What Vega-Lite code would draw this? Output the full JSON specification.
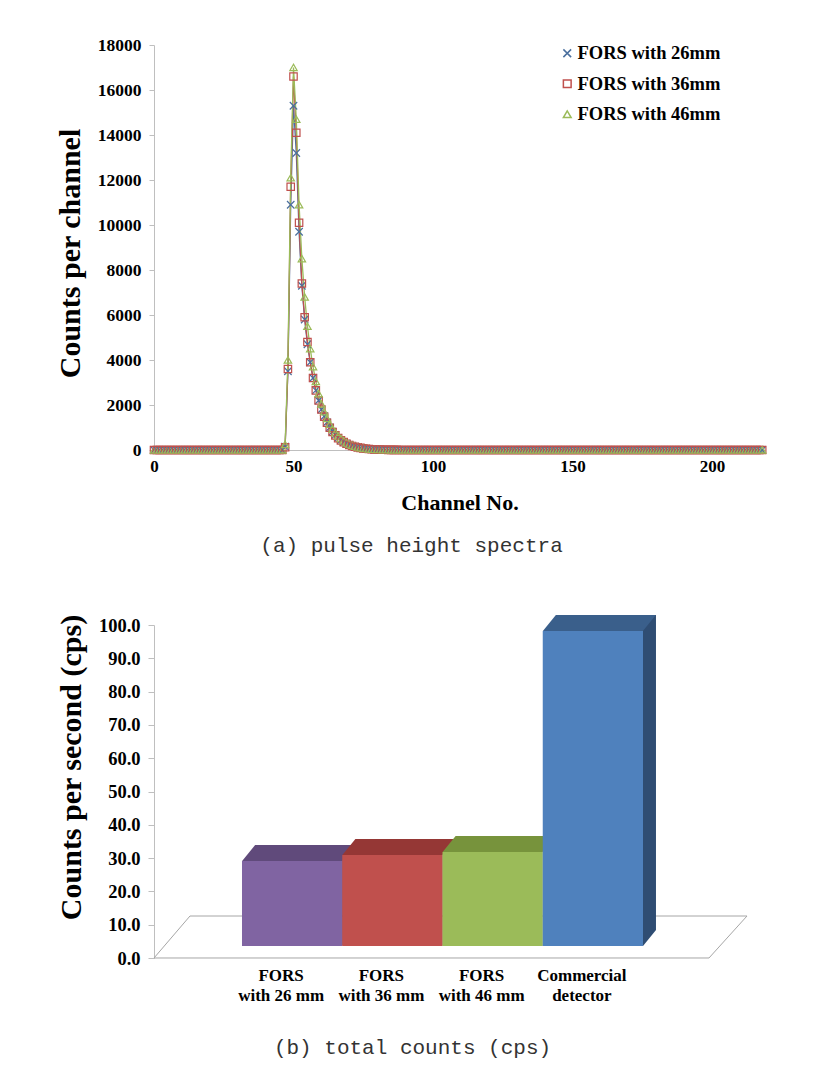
{
"$schema": "https://vega.github.io/schema/vega-lite/v6.json",
"background": "white",
"padding": {"left": 55, "top": 36, "right": 5, "bottom": 5},
"bounds": "flush",
"spacing": 175,
"config": {
  "view": {"stroke": null},
  "axis": {"labelFont": "Liberation Serif", "labelFontWeight": "bold", "labelColor": "#000", "titleFont": "Liberation Serif", "titleFontWeight": "bold", "titleColor": "#000", "domainColor": "#bfbfbf", "tickColor": "#bfbfbf", "grid": false},
  "title": {"font": "Liberation Mono", "fontSize": 21, "fontWeight": "normal", "color": "#333", "orient": "bottom", "anchor": "middle"}
},
"vconcat": [
{
  "width": 611, "height": 405,
  "title": {"text": "(a) pulse height spectra", "offset": 22, "dx": -48},
  "data": {"values": [
{"ch":0,"FORS with 26mm":0,"FORS with 36mm":0,"FORS with 46mm":0},
{"ch":1,"FORS with 26mm":0,"FORS with 36mm":0,"FORS with 46mm":0},
{"ch":2,"FORS with 26mm":0,"FORS with 36mm":0,"FORS with 46mm":0},
{"ch":3,"FORS with 26mm":0,"FORS with 36mm":0,"FORS with 46mm":0},
{"ch":4,"FORS with 26mm":0,"FORS with 36mm":0,"FORS with 46mm":0},
{"ch":5,"FORS with 26mm":0,"FORS with 36mm":0,"FORS with 46mm":0},
{"ch":6,"FORS with 26mm":0,"FORS with 36mm":0,"FORS with 46mm":0},
{"ch":7,"FORS with 26mm":0,"FORS with 36mm":0,"FORS with 46mm":0},
{"ch":8,"FORS with 26mm":0,"FORS with 36mm":0,"FORS with 46mm":0},
{"ch":9,"FORS with 26mm":0,"FORS with 36mm":0,"FORS with 46mm":0},
{"ch":10,"FORS with 26mm":0,"FORS with 36mm":0,"FORS with 46mm":0},
{"ch":11,"FORS with 26mm":0,"FORS with 36mm":0,"FORS with 46mm":0},
{"ch":12,"FORS with 26mm":0,"FORS with 36mm":0,"FORS with 46mm":0},
{"ch":13,"FORS with 26mm":0,"FORS with 36mm":0,"FORS with 46mm":0},
{"ch":14,"FORS with 26mm":0,"FORS with 36mm":0,"FORS with 46mm":0},
{"ch":15,"FORS with 26mm":0,"FORS with 36mm":0,"FORS with 46mm":0},
{"ch":16,"FORS with 26mm":0,"FORS with 36mm":0,"FORS with 46mm":0},
{"ch":17,"FORS with 26mm":0,"FORS with 36mm":0,"FORS with 46mm":0},
{"ch":18,"FORS with 26mm":0,"FORS with 36mm":0,"FORS with 46mm":0},
{"ch":19,"FORS with 26mm":0,"FORS with 36mm":0,"FORS with 46mm":0},
{"ch":20,"FORS with 26mm":0,"FORS with 36mm":0,"FORS with 46mm":0},
{"ch":21,"FORS with 26mm":0,"FORS with 36mm":0,"FORS with 46mm":0},
{"ch":22,"FORS with 26mm":0,"FORS with 36mm":0,"FORS with 46mm":0},
{"ch":23,"FORS with 26mm":0,"FORS with 36mm":0,"FORS with 46mm":0},
{"ch":24,"FORS with 26mm":0,"FORS with 36mm":0,"FORS with 46mm":0},
{"ch":25,"FORS with 26mm":0,"FORS with 36mm":0,"FORS with 46mm":0},
{"ch":26,"FORS with 26mm":0,"FORS with 36mm":0,"FORS with 46mm":0},
{"ch":27,"FORS with 26mm":0,"FORS with 36mm":0,"FORS with 46mm":0},
{"ch":28,"FORS with 26mm":0,"FORS with 36mm":0,"FORS with 46mm":0},
{"ch":29,"FORS with 26mm":0,"FORS with 36mm":0,"FORS with 46mm":0},
{"ch":30,"FORS with 26mm":0,"FORS with 36mm":0,"FORS with 46mm":0},
{"ch":31,"FORS with 26mm":0,"FORS with 36mm":0,"FORS with 46mm":0},
{"ch":32,"FORS with 26mm":0,"FORS with 36mm":0,"FORS with 46mm":0},
{"ch":33,"FORS with 26mm":0,"FORS with 36mm":0,"FORS with 46mm":0},
{"ch":34,"FORS with 26mm":0,"FORS with 36mm":0,"FORS with 46mm":0},
{"ch":35,"FORS with 26mm":0,"FORS with 36mm":0,"FORS with 46mm":0},
{"ch":36,"FORS with 26mm":0,"FORS with 36mm":0,"FORS with 46mm":0},
{"ch":37,"FORS with 26mm":0,"FORS with 36mm":0,"FORS with 46mm":0},
{"ch":38,"FORS with 26mm":0,"FORS with 36mm":0,"FORS with 46mm":0},
{"ch":39,"FORS with 26mm":0,"FORS with 36mm":0,"FORS with 46mm":0},
{"ch":40,"FORS with 26mm":0,"FORS with 36mm":0,"FORS with 46mm":0},
{"ch":41,"FORS with 26mm":0,"FORS with 36mm":0,"FORS with 46mm":0},
{"ch":42,"FORS with 26mm":0,"FORS with 36mm":0,"FORS with 46mm":0},
{"ch":43,"FORS with 26mm":0,"FORS with 36mm":0,"FORS with 46mm":0},
{"ch":44,"FORS with 26mm":0,"FORS with 36mm":0,"FORS with 46mm":0},
{"ch":45,"FORS with 26mm":0,"FORS with 36mm":0,"FORS with 46mm":0},
{"ch":46,"FORS with 26mm":0,"FORS with 36mm":0,"FORS with 46mm":0},
{"ch":47,"FORS with 26mm":150,"FORS with 36mm":120,"FORS with 46mm":250},
{"ch":48,"FORS with 26mm":3500,"FORS with 36mm":3600,"FORS with 46mm":4000},
{"ch":49,"FORS with 26mm":10900,"FORS with 36mm":11700,"FORS with 46mm":12100},
{"ch":50,"FORS with 26mm":15300,"FORS with 36mm":16600,"FORS with 46mm":17000},
{"ch":51,"FORS with 26mm":13200,"FORS with 36mm":14100,"FORS with 46mm":14700},
{"ch":52,"FORS with 26mm":9700,"FORS with 36mm":10100,"FORS with 46mm":10900},
{"ch":53,"FORS with 26mm":7300,"FORS with 36mm":7400,"FORS with 46mm":8500},
{"ch":54,"FORS with 26mm":5800,"FORS with 36mm":5900,"FORS with 46mm":6800},
{"ch":55,"FORS with 26mm":4700,"FORS with 36mm":4800,"FORS with 46mm":5500},
{"ch":56,"FORS with 26mm":3900,"FORS with 36mm":3900,"FORS with 46mm":4500},
{"ch":57,"FORS with 26mm":3200,"FORS with 36mm":3200,"FORS with 46mm":3700},
{"ch":58,"FORS with 26mm":2650,"FORS with 36mm":2650,"FORS with 46mm":3050},
{"ch":59,"FORS with 26mm":2200,"FORS with 36mm":2200,"FORS with 46mm":2500},
{"ch":60,"FORS with 26mm":1800,"FORS with 36mm":1800,"FORS with 46mm":2050},
{"ch":61,"FORS with 26mm":1500,"FORS with 36mm":1480,"FORS with 46mm":1700},
{"ch":62,"FORS with 26mm":1230,"FORS with 36mm":1210,"FORS with 46mm":1400},
{"ch":63,"FORS with 26mm":1000,"FORS with 36mm":990,"FORS with 46mm":1150},
{"ch":64,"FORS with 26mm":820,"FORS with 36mm":800,"FORS with 46mm":940},
{"ch":65,"FORS with 26mm":670,"FORS with 36mm":650,"FORS with 46mm":770},
{"ch":66,"FORS with 26mm":540,"FORS with 36mm":530,"FORS with 46mm":630},
{"ch":67,"FORS with 26mm":440,"FORS with 36mm":430,"FORS with 46mm":510},
{"ch":68,"FORS with 26mm":355,"FORS with 36mm":350,"FORS with 46mm":410},
{"ch":69,"FORS with 26mm":285,"FORS with 36mm":280,"FORS with 46mm":330},
{"ch":70,"FORS with 26mm":230,"FORS with 36mm":225,"FORS with 46mm":265},
{"ch":71,"FORS with 26mm":185,"FORS with 36mm":180,"FORS with 46mm":210},
{"ch":72,"FORS with 26mm":148,"FORS with 36mm":145,"FORS with 46mm":168},
{"ch":73,"FORS with 26mm":118,"FORS with 36mm":115,"FORS with 46mm":134},
{"ch":74,"FORS with 26mm":94,"FORS with 36mm":92,"FORS with 46mm":106},
{"ch":75,"FORS with 26mm":75,"FORS with 36mm":73,"FORS with 46mm":84},
{"ch":76,"FORS with 26mm":59,"FORS with 36mm":58,"FORS with 46mm":66},
{"ch":77,"FORS with 26mm":47,"FORS with 36mm":46,"FORS with 46mm":52},
{"ch":78,"FORS with 26mm":37,"FORS with 36mm":36,"FORS with 46mm":41},
{"ch":79,"FORS with 26mm":29,"FORS with 36mm":28,"FORS with 46mm":32},
{"ch":80,"FORS with 26mm":23,"FORS with 36mm":22,"FORS with 46mm":25},
{"ch":81,"FORS with 26mm":18,"FORS with 36mm":17,"FORS with 46mm":20},
{"ch":82,"FORS with 26mm":14,"FORS with 36mm":13,"FORS with 46mm":15},
{"ch":83,"FORS with 26mm":11,"FORS with 36mm":10,"FORS with 46mm":12},
{"ch":84,"FORS with 26mm":8,"FORS with 36mm":8,"FORS with 46mm":9},
{"ch":85,"FORS with 26mm":6,"FORS with 36mm":6,"FORS with 46mm":7},
{"ch":86,"FORS with 26mm":5,"FORS with 36mm":4,"FORS with 46mm":5},
{"ch":87,"FORS with 26mm":3,"FORS with 36mm":3,"FORS with 46mm":4},
{"ch":88,"FORS with 26mm":2,"FORS with 36mm":2,"FORS with 46mm":3},
{"ch":89,"FORS with 26mm":2,"FORS with 36mm":2,"FORS with 46mm":2},
{"ch":90,"FORS with 26mm":1,"FORS with 36mm":1,"FORS with 46mm":1},
{"ch":91,"FORS with 26mm":0,"FORS with 36mm":0,"FORS with 46mm":0},
{"ch":92,"FORS with 26mm":0,"FORS with 36mm":0,"FORS with 46mm":0},
{"ch":93,"FORS with 26mm":0,"FORS with 36mm":0,"FORS with 46mm":0},
{"ch":94,"FORS with 26mm":0,"FORS with 36mm":0,"FORS with 46mm":0},
{"ch":95,"FORS with 26mm":0,"FORS with 36mm":0,"FORS with 46mm":0},
{"ch":96,"FORS with 26mm":0,"FORS with 36mm":0,"FORS with 46mm":0},
{"ch":97,"FORS with 26mm":0,"FORS with 36mm":0,"FORS with 46mm":0},
{"ch":98,"FORS with 26mm":0,"FORS with 36mm":0,"FORS with 46mm":0},
{"ch":99,"FORS with 26mm":0,"FORS with 36mm":0,"FORS with 46mm":0},
{"ch":100,"FORS with 26mm":0,"FORS with 36mm":0,"FORS with 46mm":0},
{"ch":101,"FORS with 26mm":0,"FORS with 36mm":0,"FORS with 46mm":0},
{"ch":102,"FORS with 26mm":0,"FORS with 36mm":0,"FORS with 46mm":0},
{"ch":103,"FORS with 26mm":0,"FORS with 36mm":0,"FORS with 46mm":0},
{"ch":104,"FORS with 26mm":0,"FORS with 36mm":0,"FORS with 46mm":0},
{"ch":105,"FORS with 26mm":0,"FORS with 36mm":0,"FORS with 46mm":0},
{"ch":106,"FORS with 26mm":0,"FORS with 36mm":0,"FORS with 46mm":0},
{"ch":107,"FORS with 26mm":0,"FORS with 36mm":0,"FORS with 46mm":0},
{"ch":108,"FORS with 26mm":0,"FORS with 36mm":0,"FORS with 46mm":0},
{"ch":109,"FORS with 26mm":0,"FORS with 36mm":0,"FORS with 46mm":0},
{"ch":110,"FORS with 26mm":0,"FORS with 36mm":0,"FORS with 46mm":0},
{"ch":111,"FORS with 26mm":0,"FORS with 36mm":0,"FORS with 46mm":0},
{"ch":112,"FORS with 26mm":0,"FORS with 36mm":0,"FORS with 46mm":0},
{"ch":113,"FORS with 26mm":0,"FORS with 36mm":0,"FORS with 46mm":0},
{"ch":114,"FORS with 26mm":0,"FORS with 36mm":0,"FORS with 46mm":0},
{"ch":115,"FORS with 26mm":0,"FORS with 36mm":0,"FORS with 46mm":0},
{"ch":116,"FORS with 26mm":0,"FORS with 36mm":0,"FORS with 46mm":0},
{"ch":117,"FORS with 26mm":0,"FORS with 36mm":0,"FORS with 46mm":0},
{"ch":118,"FORS with 26mm":0,"FORS with 36mm":0,"FORS with 46mm":0},
{"ch":119,"FORS with 26mm":0,"FORS with 36mm":0,"FORS with 46mm":0},
{"ch":120,"FORS with 26mm":0,"FORS with 36mm":0,"FORS with 46mm":0},
{"ch":121,"FORS with 26mm":0,"FORS with 36mm":0,"FORS with 46mm":0},
{"ch":122,"FORS with 26mm":0,"FORS with 36mm":0,"FORS with 46mm":0},
{"ch":123,"FORS with 26mm":0,"FORS with 36mm":0,"FORS with 46mm":0},
{"ch":124,"FORS with 26mm":0,"FORS with 36mm":0,"FORS with 46mm":0},
{"ch":125,"FORS with 26mm":0,"FORS with 36mm":0,"FORS with 46mm":0},
{"ch":126,"FORS with 26mm":0,"FORS with 36mm":0,"FORS with 46mm":0},
{"ch":127,"FORS with 26mm":0,"FORS with 36mm":0,"FORS with 46mm":0},
{"ch":128,"FORS with 26mm":0,"FORS with 36mm":0,"FORS with 46mm":0},
{"ch":129,"FORS with 26mm":0,"FORS with 36mm":0,"FORS with 46mm":0},
{"ch":130,"FORS with 26mm":0,"FORS with 36mm":0,"FORS with 46mm":0},
{"ch":131,"FORS with 26mm":0,"FORS with 36mm":0,"FORS with 46mm":0},
{"ch":132,"FORS with 26mm":0,"FORS with 36mm":0,"FORS with 46mm":0},
{"ch":133,"FORS with 26mm":0,"FORS with 36mm":0,"FORS with 46mm":0},
{"ch":134,"FORS with 26mm":0,"FORS with 36mm":0,"FORS with 46mm":0},
{"ch":135,"FORS with 26mm":0,"FORS with 36mm":0,"FORS with 46mm":0},
{"ch":136,"FORS with 26mm":0,"FORS with 36mm":0,"FORS with 46mm":0},
{"ch":137,"FORS with 26mm":0,"FORS with 36mm":0,"FORS with 46mm":0},
{"ch":138,"FORS with 26mm":0,"FORS with 36mm":0,"FORS with 46mm":0},
{"ch":139,"FORS with 26mm":0,"FORS with 36mm":0,"FORS with 46mm":0},
{"ch":140,"FORS with 26mm":0,"FORS with 36mm":0,"FORS with 46mm":0},
{"ch":141,"FORS with 26mm":0,"FORS with 36mm":0,"FORS with 46mm":0},
{"ch":142,"FORS with 26mm":0,"FORS with 36mm":0,"FORS with 46mm":0},
{"ch":143,"FORS with 26mm":0,"FORS with 36mm":0,"FORS with 46mm":0},
{"ch":144,"FORS with 26mm":0,"FORS with 36mm":0,"FORS with 46mm":0},
{"ch":145,"FORS with 26mm":0,"FORS with 36mm":0,"FORS with 46mm":0},
{"ch":146,"FORS with 26mm":0,"FORS with 36mm":0,"FORS with 46mm":0},
{"ch":147,"FORS with 26mm":0,"FORS with 36mm":0,"FORS with 46mm":0},
{"ch":148,"FORS with 26mm":0,"FORS with 36mm":0,"FORS with 46mm":0},
{"ch":149,"FORS with 26mm":0,"FORS with 36mm":0,"FORS with 46mm":0},
{"ch":150,"FORS with 26mm":0,"FORS with 36mm":0,"FORS with 46mm":0},
{"ch":151,"FORS with 26mm":0,"FORS with 36mm":0,"FORS with 46mm":0},
{"ch":152,"FORS with 26mm":0,"FORS with 36mm":0,"FORS with 46mm":0},
{"ch":153,"FORS with 26mm":0,"FORS with 36mm":0,"FORS with 46mm":0},
{"ch":154,"FORS with 26mm":0,"FORS with 36mm":0,"FORS with 46mm":0},
{"ch":155,"FORS with 26mm":0,"FORS with 36mm":0,"FORS with 46mm":0},
{"ch":156,"FORS with 26mm":0,"FORS with 36mm":0,"FORS with 46mm":0},
{"ch":157,"FORS with 26mm":0,"FORS with 36mm":0,"FORS with 46mm":0},
{"ch":158,"FORS with 26mm":0,"FORS with 36mm":0,"FORS with 46mm":0},
{"ch":159,"FORS with 26mm":0,"FORS with 36mm":0,"FORS with 46mm":0},
{"ch":160,"FORS with 26mm":0,"FORS with 36mm":0,"FORS with 46mm":0},
{"ch":161,"FORS with 26mm":0,"FORS with 36mm":0,"FORS with 46mm":0},
{"ch":162,"FORS with 26mm":0,"FORS with 36mm":0,"FORS with 46mm":0},
{"ch":163,"FORS with 26mm":0,"FORS with 36mm":0,"FORS with 46mm":0},
{"ch":164,"FORS with 26mm":0,"FORS with 36mm":0,"FORS with 46mm":0},
{"ch":165,"FORS with 26mm":0,"FORS with 36mm":0,"FORS with 46mm":0},
{"ch":166,"FORS with 26mm":0,"FORS with 36mm":0,"FORS with 46mm":0},
{"ch":167,"FORS with 26mm":0,"FORS with 36mm":0,"FORS with 46mm":0},
{"ch":168,"FORS with 26mm":0,"FORS with 36mm":0,"FORS with 46mm":0},
{"ch":169,"FORS with 26mm":0,"FORS with 36mm":0,"FORS with 46mm":0},
{"ch":170,"FORS with 26mm":0,"FORS with 36mm":0,"FORS with 46mm":0},
{"ch":171,"FORS with 26mm":0,"FORS with 36mm":0,"FORS with 46mm":0},
{"ch":172,"FORS with 26mm":0,"FORS with 36mm":0,"FORS with 46mm":0},
{"ch":173,"FORS with 26mm":0,"FORS with 36mm":0,"FORS with 46mm":0},
{"ch":174,"FORS with 26mm":0,"FORS with 36mm":0,"FORS with 46mm":0},
{"ch":175,"FORS with 26mm":0,"FORS with 36mm":0,"FORS with 46mm":0},
{"ch":176,"FORS with 26mm":0,"FORS with 36mm":0,"FORS with 46mm":0},
{"ch":177,"FORS with 26mm":0,"FORS with 36mm":0,"FORS with 46mm":0},
{"ch":178,"FORS with 26mm":0,"FORS with 36mm":0,"FORS with 46mm":0},
{"ch":179,"FORS with 26mm":0,"FORS with 36mm":0,"FORS with 46mm":0},
{"ch":180,"FORS with 26mm":0,"FORS with 36mm":0,"FORS with 46mm":0},
{"ch":181,"FORS with 26mm":0,"FORS with 36mm":0,"FORS with 46mm":0},
{"ch":182,"FORS with 26mm":0,"FORS with 36mm":0,"FORS with 46mm":0},
{"ch":183,"FORS with 26mm":0,"FORS with 36mm":0,"FORS with 46mm":0},
{"ch":184,"FORS with 26mm":0,"FORS with 36mm":0,"FORS with 46mm":0},
{"ch":185,"FORS with 26mm":0,"FORS with 36mm":0,"FORS with 46mm":0},
{"ch":186,"FORS with 26mm":0,"FORS with 36mm":0,"FORS with 46mm":0},
{"ch":187,"FORS with 26mm":0,"FORS with 36mm":0,"FORS with 46mm":0},
{"ch":188,"FORS with 26mm":0,"FORS with 36mm":0,"FORS with 46mm":0},
{"ch":189,"FORS with 26mm":0,"FORS with 36mm":0,"FORS with 46mm":0},
{"ch":190,"FORS with 26mm":0,"FORS with 36mm":0,"FORS with 46mm":0},
{"ch":191,"FORS with 26mm":0,"FORS with 36mm":0,"FORS with 46mm":0},
{"ch":192,"FORS with 26mm":0,"FORS with 36mm":0,"FORS with 46mm":0},
{"ch":193,"FORS with 26mm":0,"FORS with 36mm":0,"FORS with 46mm":0},
{"ch":194,"FORS with 26mm":0,"FORS with 36mm":0,"FORS with 46mm":0},
{"ch":195,"FORS with 26mm":0,"FORS with 36mm":0,"FORS with 46mm":0},
{"ch":196,"FORS with 26mm":0,"FORS with 36mm":0,"FORS with 46mm":0},
{"ch":197,"FORS with 26mm":0,"FORS with 36mm":0,"FORS with 46mm":0},
{"ch":198,"FORS with 26mm":0,"FORS with 36mm":0,"FORS with 46mm":0},
{"ch":199,"FORS with 26mm":0,"FORS with 36mm":0,"FORS with 46mm":0},
{"ch":200,"FORS with 26mm":0,"FORS with 36mm":0,"FORS with 46mm":0},
{"ch":201,"FORS with 26mm":0,"FORS with 36mm":0,"FORS with 46mm":0},
{"ch":202,"FORS with 26mm":0,"FORS with 36mm":0,"FORS with 46mm":0},
{"ch":203,"FORS with 26mm":0,"FORS with 36mm":0,"FORS with 46mm":0},
{"ch":204,"FORS with 26mm":0,"FORS with 36mm":0,"FORS with 46mm":0},
{"ch":205,"FORS with 26mm":0,"FORS with 36mm":0,"FORS with 46mm":0},
{"ch":206,"FORS with 26mm":0,"FORS with 36mm":0,"FORS with 46mm":0},
{"ch":207,"FORS with 26mm":0,"FORS with 36mm":0,"FORS with 46mm":0},
{"ch":208,"FORS with 26mm":0,"FORS with 36mm":0,"FORS with 46mm":0},
{"ch":209,"FORS with 26mm":0,"FORS with 36mm":0,"FORS with 46mm":0},
{"ch":210,"FORS with 26mm":0,"FORS with 36mm":0,"FORS with 46mm":0},
{"ch":211,"FORS with 26mm":0,"FORS with 36mm":0,"FORS with 46mm":0},
{"ch":212,"FORS with 26mm":0,"FORS with 36mm":0,"FORS with 46mm":0},
{"ch":213,"FORS with 26mm":0,"FORS with 36mm":0,"FORS with 46mm":0},
{"ch":214,"FORS with 26mm":0,"FORS with 36mm":0,"FORS with 46mm":0},
{"ch":215,"FORS with 26mm":0,"FORS with 36mm":0,"FORS with 46mm":0},
{"ch":216,"FORS with 26mm":0,"FORS with 36mm":0,"FORS with 46mm":0},
{"ch":217,"FORS with 26mm":0,"FORS with 36mm":0,"FORS with 46mm":0},
{"ch":218,"FORS with 26mm":0,"FORS with 36mm":0,"FORS with 46mm":0}
  ]},
  "transform": [{"fold": ["FORS with 26mm", "FORS with 36mm", "FORS with 46mm"], "as": ["series", "count"]}],
  "encoding": {
    "x": {"field": "ch", "type": "quantitative", "scale": {"domain": [0, 219], "nice": false},
          "axis": {"values": [0, 50, 100, 150, 200], "title": "Channel No.", "titleFontSize": 22, "labelFontSize": 17, "ticks": false, "labelPadding": 8, "titlePadding": 18, "labelFlush": false}},
    "y": {"field": "count", "type": "quantitative", "scale": {"domain": [0, 18000], "nice": false},
          "axis": {"values": [0, 2000, 4000, 6000, 8000, 10000, 12000, 14000, 16000, 18000], "format": "d", "title": "Counts per channel", "titleFontSize": 30, "titleY": 208, "labelFontSize": 17.5, "tickSize": 5, "labelPadding": 8, "titlePadding": 12}},
    "color": {"field": "series", "type": "nominal",
              "scale": {"domain": ["FORS with 26mm", "FORS with 36mm", "FORS with 46mm"], "range": ["#4a6f9e", "#c0504d", "#9bbb59"]},
              "legend": {"title": null, "orient": "none", "legendX": 404, "legendY": -1, "labelFont": "Liberation Serif", "labelFontWeight": "bold", "labelFontSize": 18.5, "labelColor": "#000", "symbolSize": 60, "symbolStrokeWidth": 1.5, "rowPadding": 11.5, "labelOffset": 1}}
  },
  "layer": [
    {"mark": {"type": "line", "strokeWidth": 1.3}},
    {"mark": {"type": "point", "filled": false, "size": 55, "strokeWidth": 1.2, "opacity": 1},
     "encoding": {"shape": {"field": "series", "type": "nominal",
       "scale": {"domain": ["FORS with 26mm", "FORS with 36mm", "FORS with 46mm"], "range": ["M-1,-1L1,1M1,-1L-1,1", "square", "triangle-up"]},
       "legend": {"title": null, "orient": "none", "legendX": 404, "legendY": -1, "labelFont": "Liberation Serif", "labelFontWeight": "bold", "labelFontSize": 18.5, "labelColor": "#000", "symbolSize": 60, "symbolStrokeWidth": 1.5, "rowPadding": 11.5, "labelOffset": 1}}}}
  ]
},
{
  "width": 555, "height": 333,
  "title": {"text": "(b) total counts (cps)", "offset": 34, "dx": -19},
  "data": {"values": [
    {"detector": "FORS with 26 mm", "cps": 25.5},
    {"detector": "FORS with 36 mm", "cps": 27.3},
    {"detector": "FORS with 46 mm", "cps": 28.2},
    {"detector": "Commercial detector", "cps": 94.6}
  ]},
  "layer": [
    {"data": {"values": [{"level": 0}]},
     "mark": {"type": "point", "shape": "M-1,0.0708L0.8718,0.0708L1,-0.0708L-0.8786,-0.0708Z", "size": 351649, "filled": false, "stroke": "#a6a6a6", "strokeWidth": 1, "opacity": 1, "xOffset": 19, "yOffset": -21},
     "encoding": {"y": {"field": "level", "type": "quantitative", "scale": {"domain": [0, 100], "nice": false},
        "axis": {"title": "Counts per second (cps)", "titleFontSize": 30, "titleY": 142, "values": [0, 10, 20, 30, 40, 50, 60, 70, 80, 90, 100], "format": ".1f", "labelFontSize": 18.5, "tickSize": 6, "labelPadding": 8, "titlePadding": 12}}}},
    {"mark": {"type": "bar", "width": 13, "xOffset": 67.6, "yOffset": -28, "y2Offset": -28},
     "encoding": {
       "x": {"field": "detector", "type": "nominal", "sort": null, "scale": {"paddingInner": 0, "paddingOuter": 0.768},
             "axis": {"title": null, "domain": false, "ticks": false, "labelAngle": 0, "labelFontSize": 17, "labelPadding": 9, "labelLineHeight": 20, "labelExpr": "datum.label == 'Commercial detector' ? ['Commercial', 'detector'] : ['FORS', replace(datum.label, 'FORS ', '')]"}},
       "y": {"field": "cps", "type": "quantitative", "scale": {"domain": [0, 100], "nice": false},
        "axis": {"title": "Counts per second (cps)", "titleFontSize": 30, "titleY": 142, "values": [0, 10, 20, 30, 40, 50, 60, 70, 80, 90, 100], "format": ".1f", "labelFontSize": 18.5, "tickSize": 6, "labelPadding": 8, "titlePadding": 12}},
       "y2": {"datum": 0},
       "color": {"field": "detector", "type": "nominal", "scale": {"domain": ["FORS with 26 mm", "FORS with 36 mm", "FORS with 46 mm", "Commercial detector"], "range": ["#4f3d66", "#7a2f2d", "#5f7530", "#2f4d73"]}, "legend": null}}},
    {"mark": {"type": "point", "shape": "M-0.8125,-1L-0.8125,1L0.8125,-1Z", "size": 256, "filled": true, "opacity": 1, "strokeWidth": 0, "xOffset": 67.6, "yOffset": -20},
     "encoding": {
       "x": {"field": "detector", "type": "nominal", "sort": null, "scale": {"paddingInner": 0, "paddingOuter": 0.768},
             "axis": {"title": null, "domain": false, "ticks": false, "labelAngle": 0, "labelFontSize": 17, "labelPadding": 9, "labelLineHeight": 20, "labelExpr": "datum.label == 'Commercial detector' ? ['Commercial', 'detector'] : ['FORS', replace(datum.label, 'FORS ', '')]"}},
       "y": {"datum": 0, "type": "quantitative", "scale": {"domain": [0, 100], "nice": false},
        "axis": {"title": "Counts per second (cps)", "titleFontSize": 30, "titleY": 142, "values": [0, 10, 20, 30, 40, 50, 60, 70, 80, 90, 100], "format": ".1f", "labelFontSize": 18.5, "tickSize": 6, "labelPadding": 8, "titlePadding": 12}},
       "color": {"field": "detector", "type": "nominal", "scale": {"domain": ["FORS with 26 mm", "FORS with 36 mm", "FORS with 46 mm", "Commercial detector"], "range": ["#4f3d66", "#7a2f2d", "#5f7530", "#2f4d73"]}, "legend": null}}},
    {"mark": {"type": "point", "shape": "M-1,0.1416L0.7699,0.1416L1,-0.1416L-0.7699,-0.1416Z", "size": 12769, "filled": true, "opacity": 1, "strokeWidth": 0, "xOffset": 17.5, "yOffset": -20},
     "encoding": {
       "x": {"field": "detector", "type": "nominal", "sort": null, "scale": {"paddingInner": 0, "paddingOuter": 0.768},
             "axis": {"title": null, "domain": false, "ticks": false, "labelAngle": 0, "labelFontSize": 17, "labelPadding": 9, "labelLineHeight": 20, "labelExpr": "datum.label == 'Commercial detector' ? ['Commercial', 'detector'] : ['FORS', replace(datum.label, 'FORS ', '')]"}},
       "y": {"field": "cps", "type": "quantitative", "scale": {"domain": [0, 100], "nice": false},
        "axis": {"title": "Counts per second (cps)", "titleFontSize": 30, "titleY": 142, "values": [0, 10, 20, 30, 40, 50, 60, 70, 80, 90, 100], "format": ".1f", "labelFontSize": 18.5, "tickSize": 6, "labelPadding": 8, "titlePadding": 12}},
       "color": {"field": "detector", "type": "nominal", "scale": {"domain": ["FORS with 26 mm", "FORS with 36 mm", "FORS with 46 mm", "Commercial detector"], "range": ["#604a7b", "#953735", "#77933c", "#3a5f8b"]}, "legend": null}}},
    {"mark": {"type": "bar", "xOffset": 11, "yOffset": -12, "y2Offset": -12, "width": {"band": 1}},
     "encoding": {
       "x": {"field": "detector", "type": "nominal", "sort": null, "scale": {"paddingInner": 0, "paddingOuter": 0.768},
             "axis": {"title": null, "domain": false, "ticks": false, "labelAngle": 0, "labelFontSize": 17, "labelPadding": 9, "labelLineHeight": 20, "labelExpr": "datum.label == 'Commercial detector' ? ['Commercial', 'detector'] : ['FORS', replace(datum.label, 'FORS ', '')]"}},
       "y": {"field": "cps", "type": "quantitative", "scale": {"domain": [0, 100], "nice": false},
        "axis": {"title": "Counts per second (cps)", "titleFontSize": 30, "titleY": 142, "values": [0, 10, 20, 30, 40, 50, 60, 70, 80, 90, 100], "format": ".1f", "labelFontSize": 18.5, "tickSize": 6, "labelPadding": 8, "titlePadding": 12}},
       "y2": {"datum": 0},
       "color": {"field": "detector", "type": "nominal", "scale": {"domain": ["FORS with 26 mm", "FORS with 36 mm", "FORS with 46 mm", "Commercial detector"], "range": ["#8064a2", "#c0504d", "#9bbb59", "#4f81bd"]}, "legend": null}}}
  ],
  "resolve": {"scale": {"color": "independent"}}
}
]
}
